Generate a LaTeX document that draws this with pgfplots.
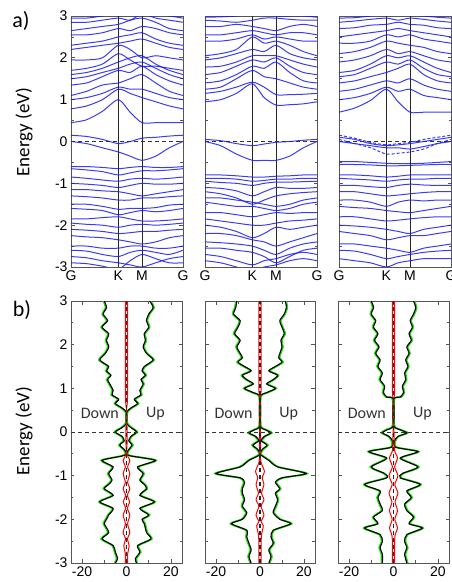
\documentclass[border=0pt]{standalone}
\usepackage{pgfplots}
\pgfplotsset{compat=1.18}
\usepackage{pgfplotstable}
\usepackage{fontspec}
\setmainfont{Liberation Sans}
\newfontfamily\calfont{Carlito}
\definecolor{bandblue}{RGB}{25,25,245}
\definecolor{dosgreen}{RGB}{40,220,20}
\definecolor{axgray}{RGB}{85,85,85}
% one band: values at G, .., K, .., M, .., .., G
\def\band#1,#2,#3,#4,#5,#6,#7,#8,#9;{\addplot[bandblue,opacity=0.85,line width=1.0pt,smooth,tension=0.45] coordinates {(0,#1)(0.14,#2)(0.28,#3)(0.4226,#4)(0.528,#5)(0.634,#6)(0.756,#7)(0.878,#8)(1,#9)};}
\def\dband#1,#2,#3,#4,#5,#6,#7,#8,#9;{\addplot[bandblue,opacity=0.85,line width=1.0pt,smooth,tension=0.45,dash pattern=on 3pt off 2pt] coordinates {(0,#1)(0.14,#2)(0.28,#3)(0.4226,#4)(0.528,#5)(0.634,#6)(0.756,#7)(0.878,#8)(1,#9)};}

% DOS tables: E, up (spin up, right), dn (spin down, left)
\pgfplotstableread{
E up dn
3.0 10.5 -10
2.85 12 -9
2.7 10 -10.5
2.55 9 -8.5
2.4 10 -11
2.25 8 -8
2.1 8.5 -9
1.95 7.5 -8
1.8 9 -9.5
1.65 12 -12
1.5 8 -8
1.4 7 -9
1.3 8.5 -7
1.2 6.5 -8.5
1.1 7.5 -7.5
0.95 6 -6
0.85 6.5 -6.5
0.75 3.5 -3.5
0.65 5 -5
0.55 2 -2
0.45 0 0
0.2 0 0
0.1 2 -2
0.0 4.5 -5
-0.1 2 -2
-0.2 1 -1
-0.3 2.5 -3
-0.4 1 -1
-0.5 0 0
-0.55 2 -2
-0.65 13 -11
-0.8 5 -6
-0.95 7.5 -8
-1.1 6 -6.5
-1.2 8 -8
-1.3 9 -10
-1.45 6 -6
-1.6 12.5 -12
-1.75 6 -6
-1.9 10 -8
-2.0 7 -9
-2.1 8 -10
-2.3 9 -8
-2.45 11 -11
-2.6 5 -6
-2.75 6 -5
-2.9 4 -4
-3.0 4.5 -5
}\dosA
\pgfplotstableread{
E r l
3.0 0.5 -0.5
2.5 0.5 -0.5
2.0 0.5 -0.5
1.5 0.5 -0.5
1.0 0.5 -0.5
0.7 0.4 -0.4
0.6 0.2 -0.2
0.5 0 0
0.2 0 0
0.1 0.3 -0.3
-0.2 0.3 -0.3
-0.5 0.1 -0.1
-0.65 1.5 -1.5
-0.8 0.5 -0.5
-0.95 1.5 -1.5
-1.15 0.5 -0.5
-1.3 1.5 -1.5
-1.45 0.4 -0.4
-1.6 1.4 -1.4
-1.75 0.4 -0.4
-1.9 1.5 -1.5
-2.1 0.5 -0.5
-2.3 1.5 -1.5
-2.45 0.4 -0.4
-2.6 1.2 -1.2
-2.8 0.5 -0.5
-3.0 0.5 -0.5
}\redA
\pgfplotstableread{
E up dn
3.0 11.5 -10.6
2.85 12 -11
2.7 11 -12
2.55 9 -9
2.4 10 -10
2.25 11 -11.5
2.1 9.5 -9
1.95 10 -10.5
1.8 9 -9
1.7 8.5 -8
1.6 10 -10
1.5 7 -7
1.4 4 -4
1.3 8 -8
1.2 6 -6
1.1 3 -3
1.0 7 -7
0.9 3 -3
0.8 0 0
0.15 0 0
0.05 2.5 -2.5
-0.02 5 -5
-0.1 2 -2
-0.2 0.5 -0.5
-0.3 3.2 -3.2
-0.4 1 -1
-0.5 0 0
-0.55 1 -1
-0.65 4 -5
-0.8 8 -9
-0.95 21 -20
-1.05 10 -9
-1.15 7 -7
-1.3 9 -8
-1.4 7 -8
-1.55 8 -7
-1.7 7 -8
-1.85 6 -6
-2.0 9 -8
-2.1 14 -13
-2.25 6 -6
-2.4 5 -6
-2.55 6 -5
-2.7 4 -4
-2.85 5 -5
-3.0 4 -4
}\dosB
\pgfplotstableread{
E r l
3.0 0.5 -0.5
2.0 0.5 -0.5
1.0 0.5 -0.5
0.85 0.3 -0.3
0.8 0 0
0.15 0 0
0.05 0.2 -0.2
-0.3 0.3 -0.3
-0.5 0.1 -0.1
-0.7 0.5 -0.5
-0.9 2 -2
-1.05 1 -1
-1.2 1.8 -1.8
-1.4 0.7 -0.7
-1.55 1.8 -1.8
-1.7 0.5 -0.5
-1.9 1.8 -1.8
-2.05 0.5 -0.5
-2.15 1.5 -1.5
-2.4 0.6 -0.6
-3.0 0.5 -0.5
}\redB
\pgfplotstableread{
E up dn
3.0 9 -10
2.85 10 -9
2.7 9 -10
2.55 7.5 -8
2.4 8.5 -9
2.25 7 -7
2.1 8 -8.5
1.95 6 -6.5
1.8 7 -8
1.65 5.5 -6
1.5 6.5 -7
1.35 5 -5
1.2 5.5 -6
1.05 4 -4
0.9 4.5 -4.5
0.8 3 -3
0.75 0 0
0.15 0 0
0.05 3 -3
-0.02 6 -5
-0.1 2 -2
-0.2 0.5 -0.5
-0.35 1 -1
-0.45 11 -11
-0.6 3 -3
-0.8 11 -10
-0.95 4 -4
-1.05 3 -3
-1.2 12 -13
-1.35 6 -6
-1.5 8 -7
-1.65 5 -6
-1.8 6 -5
-1.95 9 -9
-2.1 7 -7
-2.2 13 -13
-2.35 6 -6
-2.5 5 -5
-2.65 6 -6
-2.8 5 -5
-3.0 6 -5
}\dosC
\pgfplotstableread{
E r l
3.0 0.5 -0.5
2.0 0.5 -0.5
1.0 0.5 -0.5
0.8 0.3 -0.3
0.75 0 0
0.15 0 0
0.05 0.2 -0.2
-0.3 0.3 -0.3
-0.45 0.6 -0.6
-0.6 1.8 -1.8
-0.8 0.5 -0.5
-1.0 2 -2
-1.2 0.6 -0.6
-1.4 2 -2
-1.6 0.7 -0.7
-1.8 1.8 -1.8
-2.0 0.6 -0.6
-2.2 1.8 -1.8
-2.4 0.6 -0.6
-3.0 0.5 -0.5
}\redC

\pgfplotsset{
  common/.style={scale only axis, ymin=-3, ymax=3, ytick={-3,...,3}, minor y tick num=1,
    tick align=inside, axis line style={axgray, line width=0.9pt},
    every tick/.style={axgray, line width=0.7pt}, major tick length=3.5pt, minor tick length=2.5pt,
    tick label style={font=\fontsize{14}{15}\selectfont},
    /pgf/number format/assume math mode=true, clip=true},
  bandax/.style={common, width=112pt, height=251pt, xmin=0, xmax=1,
    xtick={0,0.4226,0.634,1}, xticklabels={G,K,M,G}, xtick style={draw=none},
    xticklabel style={font=\fontsize{14}{15}\selectfont}},
  dosax/.style={common, height=262pt, xmin=-25, xmax=25, xtick={-20,0,20}, minor x tick num=1},
}
\newcommand\kmlines{%
  \addplot[black!85, line width=0.7pt] coordinates {(0.4226,-3)(0.4226,3)};
  \addplot[black!85, line width=0.7pt] coordinates {(0.634,-3)(0.634,3)};
  \addplot[black!80, line width=1pt, dash pattern=on 4pt off 3pt] coordinates {(0,0)(1,0)};
}
\newcommand\dosplot[2]{%
  \addplot[dosgreen, line width=1.8pt, smooth, tension=0.4] table[x expr=\thisrow{up}+0.4, y=E] {#1};
  \addplot[dosgreen, line width=1.8pt, smooth, tension=0.4] table[x expr=\thisrow{dn}-0.4, y=E] {#1};
  \addplot[black, line width=1.1pt, smooth, tension=0.4] table[x=up, y=E] {#1};
  \addplot[black, line width=1.1pt, smooth, tension=0.4] table[x=dn, y=E] {#1};
  \addplot[red, line width=1.0pt, smooth, tension=0.4] table[x=r, y=E] {#2};
  \addplot[red, line width=1.0pt, smooth, tension=0.4] table[x=l, y=E] {#2};
  \addplot[black!85, line width=1.1pt, dash pattern=on 4pt off 3pt] coordinates {(0,-3)(0,3)};
  \addplot[black!80, line width=1pt, dash pattern=on 4pt off 3pt] coordinates {(-25,0)(25,0)};
  \node[font=\calfont\fontsize{16}{17}\selectfont, text=black!80] at (axis cs:-12,0.42) {Down};
  \node[font=\calfont\fontsize{16}{17}\selectfont, text=black!80] at (axis cs:13,0.42) {Up};
}

\begin{document}
\begin{tikzpicture}[x=1pt,y=1pt]
\useasboundingbox (0,0) rectangle (451,582);
\node[font=\calfont\fontsize{22}{23}\selectfont] at (21,561) {a)};
\node[font=\calfont\fontsize{22}{23}\selectfont] at (22,272) {b)};
\node[font=\calfont\fontsize{19}{20}\selectfont, rotate=90] at (24,450) {Energy (eV)};
\node[font=\calfont\fontsize{19}{20}\selectfont, rotate=90] at (24,151) {Energy (eV)};

% ---------- top panel 1 ----------
\begin{axis}[bandax, at={(71pt,315pt)}, anchor=south west]
\kmlines
\band 0.15,0.12,0.05,-0.05,0.00,0.08,0.10,0.13,0.15;
\band 0.00,-0.05,-0.15,-0.25,-0.35,-0.45,-0.35,-0.15,0.00;
\band 0.45,0.52,0.72,1.00,0.70,0.45,0.45,0.45,0.45;
\band 0.78,0.85,1.00,1.25,1.15,1.05,0.95,0.85,0.78;
\band 1.00,1.05,1.15,1.30,1.25,1.25,1.15,1.05,1.00;
\band 1.10,1.20,1.35,1.40,1.50,1.60,1.40,1.20,1.10;
\band 1.35,1.40,1.55,1.70,1.65,1.80,1.60,1.45,1.35;
\band 1.50,1.55,1.65,1.75,1.85,1.90,1.75,1.60,1.50;
\band 1.60,1.65,1.75,1.90,2.00,2.05,1.85,1.70,1.60;
\band 1.70,1.75,1.85,2.10,1.95,1.80,1.80,1.75,1.70;
\band 1.95,1.95,2.00,2.30,2.20,2.00,2.05,2.00,1.95;
\band 2.20,2.25,2.30,2.35,2.40,2.45,2.35,2.25,2.20;
\band 2.30,2.35,2.40,2.50,2.55,2.60,2.45,2.35,2.30;
\band 2.55,2.55,2.60,2.70,2.65,2.75,2.70,2.60,2.55;
\band 2.65,2.70,2.75,2.80,2.90,2.95,2.85,2.70,2.65;
\band 2.85,2.85,2.90,2.95,2.90,3.05,2.95,2.90,2.85;
\band 2.95,2.95,3.00,3.05,3.10,3.10,3.05,3.00,2.95;
\band -0.60,-0.60,-0.62,-0.65,-0.62,-0.60,-0.62,-0.62,-0.60;
\band -0.65,-0.68,-0.72,-0.80,-0.75,-0.70,-0.70,-0.68,-0.65;
\band -0.85,-0.88,-0.92,-0.95,-0.90,-0.88,-0.90,-0.88,-0.85;
\band -1.00,-1.02,-1.05,-1.10,-1.05,-1.00,-1.02,-1.02,-1.00;
\band -1.15,-1.15,-1.18,-1.20,-1.25,-1.30,-1.25,-1.20,-1.15;
\band -1.30,-1.32,-1.35,-1.40,-1.40,-1.35,-1.35,-1.32,-1.30;
\band -1.50,-1.50,-1.55,-1.62,-1.60,-1.60,-1.58,-1.52,-1.50;
\band -1.60,-1.62,-1.65,-1.75,-1.70,-1.65,-1.68,-1.65,-1.60;
\band -1.85,-1.85,-1.82,-1.80,-1.85,-1.90,-1.90,-1.88,-1.85;
\band -1.95,-1.98,-2.00,-2.05,-2.00,-1.98,-2.00,-1.98,-1.95;
\band -2.10,-2.12,-2.15,-2.20,-2.18,-2.15,-2.15,-2.12,-2.10;
\band -2.25,-2.28,-2.30,-2.35,-2.40,-2.45,-2.40,-2.30,-2.25;
\band -2.50,-2.50,-2.55,-2.55,-2.50,-2.50,-2.55,-2.55,-2.50;
\band -2.60,-2.62,-2.70,-2.75,-2.65,-2.60,-2.65,-2.70,-2.60;
\band -2.75,-2.78,-2.85,-2.90,-2.95,-3.00,-2.90,-2.80,-2.75;
\band -2.90,-2.92,-2.98,-3.05,-2.85,-2.70,-2.80,-2.90,-2.90;
\end{axis}

% ---------- top panel 2 ----------
\begin{axis}[bandax, yticklabels={}, at={(205pt,315pt)}, anchor=south west]
\kmlines
\band 0.05,0.02,-0.05,-0.10,-0.06,-0.02,0.00,0.03,0.05;
\band 0.00,-0.10,-0.30,-0.45,-0.45,-0.45,-0.35,-0.15,0.00;
\band 0.95,1.00,1.15,1.38,1.05,0.87,0.88,0.90,0.95;
\band 1.15,1.20,1.30,1.42,1.30,1.12,1.12,1.13,1.15;
\band 1.25,1.30,1.50,1.70,1.55,1.50,1.40,1.30,1.25;
\band 1.40,1.45,1.60,1.80,1.75,1.90,1.65,1.45,1.40;
\band 1.60,1.65,1.80,1.95,1.90,2.00,1.80,1.65,1.60;
\band 1.78,1.80,1.90,2.05,2.05,2.05,1.95,1.85,1.78;
\band 1.95,2.00,2.10,2.20,2.15,2.30,2.10,2.00,1.95;
\band 2.05,2.10,2.20,2.50,2.35,2.40,2.30,2.15,2.05;
\band 2.40,2.40,2.45,2.55,2.45,2.50,2.45,2.40,2.40;
\band 2.55,2.55,2.60,2.65,2.60,2.55,2.60,2.60,2.55;
\band 2.75,2.75,2.80,2.75,2.70,2.65,2.75,2.80,2.75;
\band 2.90,2.88,2.85,2.90,2.95,2.95,2.92,2.90,2.90;
\band 2.97,2.98,3.00,3.05,3.05,3.00,3.00,3.00,2.97;
\band -0.80,-0.80,-0.82,-0.85,-0.85,-0.83,-0.82,-0.80,-0.80;
\band -0.88,-0.88,-0.90,-0.95,-0.93,-0.90,-0.90,-0.88,-0.88;
\band -0.95,-0.98,-1.00,-1.05,-1.00,-0.97,-0.97,-0.96,-0.95;
\band -1.10,-1.12,-1.18,-1.30,-1.20,-1.10,-1.12,-1.12,-1.10;
\band -1.20,-1.25,-1.35,-1.50,-1.40,-1.30,-1.25,-1.22,-1.20;
\band -1.35,-1.35,-1.40,-1.45,-1.50,-1.55,-1.50,-1.40,-1.35;
\band -1.45,-1.50,-1.55,-1.55,-1.60,-1.65,-1.60,-1.50,-1.45;
\band -1.70,-1.70,-1.75,-1.80,-1.75,-1.70,-1.72,-1.70,-1.70;
\band -1.85,-1.90,-1.95,-2.00,-2.00,-1.95,-1.90,-1.88,-1.85;
\band -2.00,-2.05,-2.15,-2.30,-2.20,-2.05,-2.10,-2.05,-2.00;
\band -2.20,-2.20,-2.25,-2.35,-2.40,-2.50,-2.40,-2.30,-2.20;
\band -2.40,-2.42,-2.45,-2.50,-2.60,-2.70,-2.55,-2.45,-2.40;
\band -2.55,-2.55,-2.60,-2.65,-2.75,-2.90,-2.75,-2.60,-2.55;
\band -2.70,-2.75,-2.85,-2.95,-2.85,-2.80,-2.70,-2.65,-2.70;
\band -2.85,-2.90,-3.00,-3.10,-3.00,-2.95,-2.85,-2.80,-2.85;
\end{axis}

% ---------- top panel 3 ----------
\begin{axis}[bandax, yticklabels={}, at={(339pt,315pt)}, anchor=south west]
\kmlines
\band 0.10,0.05,-0.05,-0.10,-0.08,-0.05,0.00,0.05,0.10;
\dband 0.15,0.08,-0.02,-0.08,-0.05,-0.02,0.05,0.10,0.15;
\band 0.00,-0.05,-0.10,-0.15,-0.15,-0.18,-0.12,-0.05,0.00;
\dband 0.05,-0.05,-0.15,-0.30,-0.28,-0.25,-0.18,-0.05,0.05;
\band 0.70,0.80,0.98,1.25,0.95,0.70,0.70,0.70,0.70;
\band 1.00,1.05,1.15,1.30,1.20,1.25,1.10,1.05,1.00;
\band 1.20,1.25,1.35,1.45,1.40,1.50,1.35,1.25,1.20;
\band 1.40,1.45,1.55,1.65,1.75,1.85,1.60,1.45,1.40;
\band 1.55,1.60,1.75,1.90,1.85,1.95,1.75,1.60,1.55;
\band 1.65,1.70,1.85,2.05,2.00,2.05,1.90,1.75,1.65;
\band 1.90,1.95,2.05,2.20,2.10,2.15,2.05,1.95,1.90;
\band 2.10,2.15,2.25,2.40,2.35,2.30,2.25,2.15,2.10;
\band 2.35,2.35,2.40,2.55,2.50,2.55,2.45,2.40,2.35;
\band 2.50,2.55,2.60,2.65,2.70,2.65,2.60,2.55,2.50;
\band 2.70,2.72,2.78,2.80,2.85,2.80,2.78,2.72,2.70;
\band 2.85,2.88,2.92,2.95,2.90,2.95,2.92,2.88,2.85;
\band 2.95,2.96,3.00,3.05,3.05,3.02,3.00,2.97,2.95;
\band -0.48,-0.48,-0.50,-0.52,-0.53,-0.53,-0.52,-0.50,-0.48;
\band -0.55,-0.55,-0.56,-0.58,-0.58,-0.57,-0.56,-0.55,-0.55;
\band -0.80,-0.80,-0.82,-0.85,-0.83,-0.80,-0.80,-0.80,-0.80;
\band -0.88,-0.90,-0.92,-0.95,-0.92,-0.90,-0.90,-0.88,-0.88;
\band -1.05,-1.05,-1.08,-1.10,-1.05,-1.02,-1.04,-1.05,-1.05;
\band -1.20,-1.20,-1.25,-1.30,-1.28,-1.25,-1.22,-1.20,-1.20;
\band -1.40,-1.40,-1.45,-1.55,-1.45,-1.40,-1.42,-1.40,-1.40;
\band -1.55,-1.58,-1.60,-1.65,-1.68,-1.70,-1.65,-1.60,-1.55;
\band -1.80,-1.80,-1.85,-1.90,-1.88,-1.85,-1.82,-1.80,-1.80;
\band -2.00,-2.02,-2.05,-2.10,-2.15,-2.20,-2.10,-2.05,-2.00;
\band -2.15,-2.20,-2.25,-2.35,-2.30,-2.25,-2.25,-2.20,-2.15;
\band -2.45,-2.45,-2.50,-2.55,-2.60,-2.65,-2.55,-2.50,-2.45;
\band -2.60,-2.62,-2.70,-2.80,-2.75,-2.70,-2.65,-2.62,-2.60;
\band -2.80,-2.85,-2.90,-3.00,-2.90,-2.85,-2.80,-2.80,-2.80;
\end{axis}

% ---------- bottom DOS panels ----------
\begin{axis}[dosax, width=111pt, at={(71pt,19pt)}, anchor=south west]
\dosplot{\dosA}{\redA}
\end{axis}
\begin{axis}[dosax, width=110pt, yticklabels={}, at={(205pt,19pt)}, anchor=south west]
\dosplot{\dosB}{\redB}
\end{axis}
\begin{axis}[dosax, width=111pt, yticklabels={}, at={(338pt,19pt)}, anchor=south west]
\dosplot{\dosC}{\redC}
\end{axis}
\end{tikzpicture}
\end{document}
